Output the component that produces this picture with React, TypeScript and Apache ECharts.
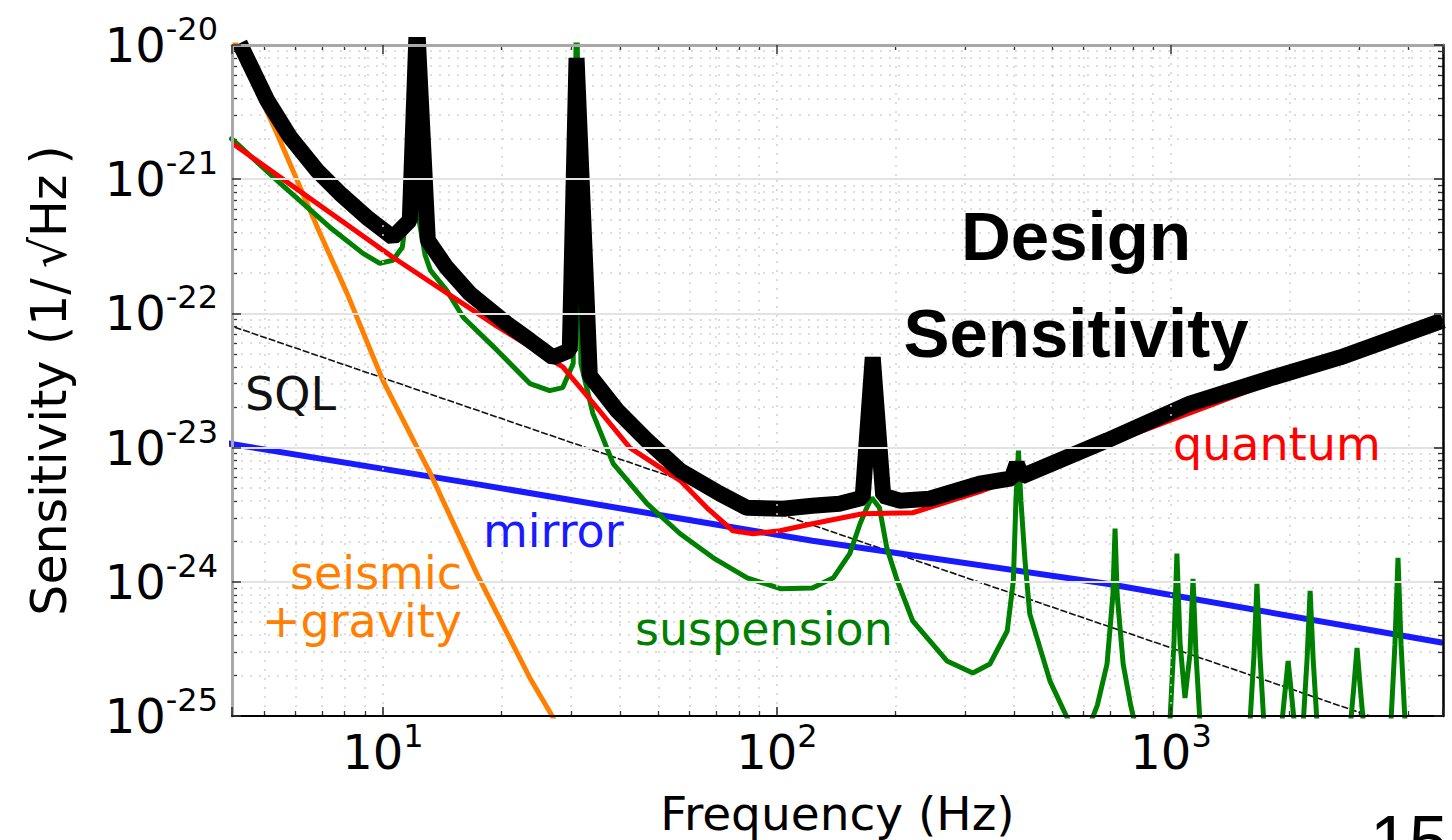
import React, { useEffect, useRef } from 'react';
import * as echarts from 'echarts';

const FONT = '"DejaVu Sans", "Bitstream Vera Sans", sans-serif';
const TITLE_FONT = '"Liberation Sans", Arial, Helvetica, sans-serif';

// ---- axis ranges ----
const X_MIN = 4.14; // Hz
const X_MAX = 4900; // Hz
const Y_MIN_EXP = -25; // 1e-25 1/sqrt(Hz)
const Y_MAX_EXP = -20; // 1e-20 1/sqrt(Hz)
// strain values are plotted in units of 1e-25 so the log axis stays in a safe numeric range
const Y_UNIT = Math.pow(10, -Y_MIN_EXP);

// ---- tick labels / minor ticks ----
const xMinorTicks = [5, 6, 7, 8, 9, 20, 30, 40, 50, 60, 70, 80, 90, 200, 300, 400, 500, 600, 700, 800, 900, 2000, 3000, 4000];
const yMinorMantissas = [2, 3, 4, 5, 6, 7, 8, 9];
const yMinorDecades = [-25, -24, -23, -22, -21];

// ---- Design sensitivity (thick black) ----
const designFreq = [4.33, 5.08, 5.81, 6.79, 7.77, 9.1, 10.6, 11.7, 12.2, 13.0, 14.5, 16.6, 20.6, 23.6, 27.0, 29.8, 31.0, 33.5, 39.3, 46.8, 56.8, 71.6, 83.9, 103.5, 123, 144, 165, 175, 186, 205, 244, 327, 394, 406, 418, 688, 1117, 1815, 2687, 4900];
const designStrain = [1.03e-20, 3.89e-21, 2.06e-21, 1.17e-21, 7.87e-22, 5.2e-22, 3.69e-22, 4.94e-22, 1.5e-20, 3.5e-22, 2.2e-22, 1.41e-22, 8.4e-23, 6.3e-23, 4.7e-23, 5.3e-23, 8.0e-21, 3.44e-23, 1.89e-23, 1.13e-23, 6.73e-24, 4.54e-24, 3.56e-24, 3.5e-24, 3.69e-24, 3.82e-24, 4.23e-24, 4.7e-23, 4.38e-24, 4.02e-24, 4.16e-24, 5.38e-24, 5.9e-24, 7.6e-24, 6.1e-24, 1.13e-23, 2.13e-23, 3.33e-23, 4.7e-23, 8.87e-23];

// ---- quantum (red) ----
const quantumFreq = [4.14, 10.6, 19.5, 28.6, 34.9, 42.3, 56.8, 66.4, 77.3, 86.9, 101.8, 123, 165, 221, 327, 688, 1815, 4900];
const quantumStrain = [1.86e-21, 2.62e-22, 8.0e-23, 4.0e-23, 1.99e-23, 1.0e-23, 5.68e-24, 3.56e-24, 2.4e-24, 2.28e-24, 2.4e-24, 2.71e-24, 3.21e-24, 3.27e-24, 4.7e-24, 1.06e-23, 3.1e-23, 8.3e-23];

// ---- suspension thermal (green): broadband part ----
const suspensionFreq = [4.09, 5.48, 7.33, 8.9, 9.82, 10.6, 11.2, 11.6, 11.85, 12.1, 12.8, 13.2, 14.5, 16.0, 19.5, 23.6, 26.5, 28.6, 30.4, 31.0, 31.8, 34.1, 38.4, 46.8, 56.8, 68.9, 84.0, 102, 123, 139, 153, 162.5, 169, 174, 182, 190, 202, 221, 270, 314, 347, 384, 398, 404, 410, 416, 426, 438, 493, 545, 570];
const suspensionStrain = [2.06e-21, 9.33e-22, 4.39e-22, 2.8e-22, 2.36e-22, 2.49e-22, 3.11e-22, 6.97e-22, 3e-20, 6.97e-22, 2.71e-22, 2.09e-22, 1.49e-22, 9.33e-23, 5.3e-23, 3.0e-23, 2.66e-23, 2.8e-23, 4.24e-23, 3e-20, 4.24e-23, 1.8e-23, 7.6e-24, 3.82e-24, 2.28e-24, 1.51e-24, 1.07e-24, 8.88e-25, 9.0e-25, 1.07e-24, 1.62e-24, 2.71e-24, 3.56e-24, 4.23e-24, 3.56e-24, 1.79e-24, 1.02e-24, 5.12e-25, 2.57e-25, 2.09e-25, 2.44e-25, 4.3e-25, 1.02e-24, 4.02e-24, 9.5e-24, 4.02e-24, 1.44e-24, 5.77e-25, 1.82e-25, 9.7e-26, 7e-26];
// ---- suspension thermal (green): violin-mode spikes ----
const violinFreq = [600, 650, 688, 712, 721, 730, 756, 790, 830, 988, 1017, 1035, 1054, 1085, 1117, 1137, 1157, 1192, 1576, 1623, 1652, 1682, 1731, 1891, 1947, 1982, 2018, 2077, 2151, 2214, 2254, 2295, 2362, 2829, 2912, 2965, 3018, 3107, 3594, 3700, 3767, 3835, 3948, 4900];
const violinStrain = [6.5e-26, 1.2e-25, 2.44e-25, 8e-25, 2.49e-24, 8e-25, 2.44e-25, 1.2e-25, 6.5e-26, 6.5e-26, 3.5e-25, 1.62e-24, 3.5e-25, 1.36e-25, 2.9e-25, 1.05e-24, 2.9e-25, 6.5e-26, 6.5e-26, 2.77e-25, 9.66e-25, 2.77e-25, 6.5e-26, 6.5e-26, 1.53e-25, 2.57e-25, 1.53e-25, 6.5e-26, 6.5e-26, 2.63e-25, 8.57e-25, 2.63e-25, 6.5e-26, 6.5e-26, 1.69e-25, 3.21e-25, 1.69e-25, 6.5e-26, 6.5e-26, 3.4e-25, 1.51e-24, 3.4e-25, 6.5e-26, 6.5e-26];

// ---- seismic + gravity gradient (orange) ----
const seismicFreq = [4.1, 5.38, 6.92, 8.11, 10, 13.2, 17.3, 23.6, 27.0, 28.1];
const seismicStrain = [1.25e-20, 2.2e-21, 3.96e-22, 1.41e-22, 3.16e-23, 6.4e-24, 1.15e-24, 1.92e-25, 9.8e-26, 7e-26];

// ---- mirror thermal (blue) ----
const mirrorFreq = [4.0, 17.6, 123, 688, 4900];
const mirrorStrain = [1.08e-23, 5.3e-24, 2.02e-24, 9.66e-25, 3.51e-25];

// ---- standard quantum limit (thin black) ----
const sqlFreq = [4.0, 1000, 4900];
const sqlStrain = [8.3e-23, 3.22e-25, 6.5e-26];

// ---- annotation texts (layout only) ----
const annotations = [
  { text: 'SQL', x: 245, y: 394, color: '#111111', align: 'left' },
  { text: 'seismic\n+gravity', x: 462, y: 597, color: '#ff8000', align: 'right' },
  { text: 'mirror', x: 483, y: 531, color: '#1a1aff', align: 'left' },
  { text: 'suspension', x: 635, y: 629, color: '#008000', align: 'left' },
  { text: 'quantum', x: 1173, y: 444, color: '#ff0000', align: 'left' },
];

const toPairs = (f: number[], h: number[]) => f.map((v, i) => [v, h[i] * Y_UNIT]);

const isDecade = (v: number) => {
  const l = Math.log10(v);
  return Math.abs(l - Math.round(l)) < 1e-6;
};

const richLabel = {
  b: { fontSize: 48, fontFamily: FONT, color: '#000', lineHeight: 64 },
  s: { fontSize: 32, fontFamily: FONT, color: '#000', lineHeight: 32, verticalAlign: 'top' },
};

function buildOption() {
  const yAxisMin = Math.pow(10, 0);
  const yAxisMax = Math.pow(10, Y_MAX_EXP - Y_MIN_EXP);

  const yMinor: number[] = [];
  yMinorDecades.forEach((d) => {
    yMinorMantissas.forEach((m) => {
      yMinor.push(m * Math.pow(10, d - Y_MIN_EXP));
    });
  });

  // short inward minor tick marks on all four sides (tick length ~5px)
  const tx = Math.pow(10, 5 / 394);
  const ty = Math.pow(10, 5 / 134);
  const minorTickSegments: any[] = [];
  xMinorTicks.forEach((v) => {
    minorTickSegments.push([{ coord: [v, yAxisMin] }, { coord: [v, yAxisMin * ty] }]);
    minorTickSegments.push([{ coord: [v, yAxisMax] }, { coord: [v, yAxisMax / ty] }]);
  });
  yMinor.forEach((v) => {
    minorTickSegments.push([{ coord: [X_MIN, v] }, { coord: [X_MIN * tx, v] }]);
    minorTickSegments.push([{ coord: [X_MAX / tx, v] }, { coord: [X_MAX, v] }]);
  });

  const lineBase = {
    type: 'line',
    xAxisIndex: 0,
    yAxisIndex: 0,
    showSymbol: false,
    symbol: 'none',
    smooth: false,
    clip: true,
    silent: true,
    z: 5,
  };

  return {
    animation: false,
    backgroundColor: '#ffffff',
    grid: {
      left: 232,
      top: 45,
      right: 9,
      bottom: 124,
      containLabel: false,
      outerBoundsMode: 'none',
    },
    xAxis: [
      {
        type: 'log',
        logBase: 10,
        min: X_MIN,
        max: X_MAX,
        position: 'bottom',
        z: 10,
        axisLine: { show: true, onZero: false, lineStyle: { color: '#000', width: 2 } },
        axisTick: { show: true, inside: true, length: 9, lineStyle: { color: '#222', width: 1.5 } },
        axisLabel: {
          show: true,
          margin: 4,
          formatter: (v: number) => (isDecade(v) ? `{b|10}{s|${Math.round(Math.log10(v))}}` : ''),
          rich: richLabel,
        },
        splitLine: { show: true, lineStyle: { color: '#cfcfcf', width: 1.5, type: [2, 7] } },
        minorTick: { show: false },
        minorSplitLine: { show: false },
        name: 'Frequency (Hz)',
        nameLocation: 'middle',
        nameGap: 74,
        nameMoveOverlap: false,
        nameTextStyle: { fontSize: 47, fontFamily: FONT, color: '#000' },
      },
      {
        type: 'log',
        logBase: 10,
        min: X_MIN,
        max: X_MAX,
        position: 'top',
        z: 10,
        axisLine: { show: true, onZero: false, lineStyle: { color: '#a8a8a8', width: 3 } },
        axisTick: { show: true, inside: true, length: 9, lineStyle: { color: '#333', width: 1.5 } },
        axisLabel: { show: false },
        splitLine: { show: false },
      },
    ],
    yAxis: [
      {
        type: 'log',
        logBase: 10,
        min: yAxisMin,
        max: yAxisMax,
        position: 'left',
        z: 10,
        axisLine: { show: true, onZero: false, lineStyle: { color: '#a8a8a8', width: 3 } },
        axisTick: { show: true, inside: true, length: 9, lineStyle: { color: '#333', width: 1.5 } },
        axisLabel: {
          show: true,
          margin: 14,
          formatter: (v: number) => (isDecade(v) ? `{b|10}{s|${Math.round(Math.log10(v)) + Y_MIN_EXP}}` : ''),
          rich: richLabel,
        },
        splitLine: { show: true, lineStyle: { color: '#e3e3e3', width: 2 } },
        minorTick: { show: false },
        minorSplitLine: { show: false },
        name: '{a|Sensitivity (1/}{m|√Hz}{a|)}',
        nameLocation: 'middle',
        nameGap: 158,
        nameMoveOverlap: false,
        nameTextStyle: {
          fontSize: 49,
          fontFamily: FONT,
          color: '#000',
          rich: {
            a: { fontSize: 49, fontFamily: FONT, color: '#000' },
            m: { fontSize: 49, fontFamily: FONT, color: '#000', padding: [0, 10, 0, 10] },
          },
        },
      },
      {
        type: 'log',
        logBase: 10,
        min: yAxisMin,
        max: yAxisMax,
        position: 'right',
        z: 10,
        axisLine: { show: true, onZero: false, lineStyle: { color: '#000', width: 2.5 } },
        axisTick: { show: true, inside: true, length: 9, lineStyle: { color: '#222', width: 1.5 } },
        axisLabel: { show: false },
        splitLine: { show: false },
      },
    ],
    series: [
      {
        type: 'line',
        xAxisIndex: 0,
        yAxisIndex: 0,
        data: [],
        silent: true,
        z: 1,
        markLine: {
          silent: true,
          z: 1,
          symbol: ['none', 'none'],
          label: { show: false },
          emphasis: { disabled: true },
          lineStyle: { color: '#d2d2d2', width: 1.5, type: [2, 7] },
          data: [...xMinorTicks.map((v) => ({ xAxis: v })), ...yMinor.map((v) => ({ yAxis: v }))],
        },
      },
      {
        type: 'line',
        xAxisIndex: 0,
        yAxisIndex: 0,
        data: [],
        silent: true,
        z: 1,
        markLine: {
          silent: true,
          z: 1,
          symbol: ['none', 'none'],
          label: { show: false },
          emphasis: { disabled: true },
          lineStyle: { color: '#333', width: 1.3, type: 'solid' },
          data: minorTickSegments,
        },
      },
      {
        ...lineBase,
        name: 'SQL',
        data: toPairs(sqlFreq, sqlStrain),
        lineStyle: { color: '#111', width: 1.6, type: [7, 2] },
      },
      {
        ...lineBase,
        name: 'mirror',
        data: toPairs(mirrorFreq, mirrorStrain),
        lineStyle: { color: '#1a1aff', width: 6 },
      },
      {
        ...lineBase,
        name: 'seismic+gravity',
        data: toPairs(seismicFreq, seismicStrain),
        lineStyle: { color: '#ff8000', width: 5 },
      },
      {
        ...lineBase,
        name: 'suspension',
        data: toPairs(suspensionFreq.concat(violinFreq), suspensionStrain.concat(violinStrain)),
        lineStyle: { color: '#008000', width: 5 },
      },
      {
        ...lineBase,
        name: 'quantum',
        data: toPairs(quantumFreq, quantumStrain),
        lineStyle: { color: '#ff0000', width: 5 },
      },
      {
        ...lineBase,
        name: 'Design Sensitivity',
        data: toPairs(designFreq, designStrain),
        lineStyle: { color: '#000', width: 16 },
      },
    ],
    graphic: [
      ...annotations.map((a) => ({
        type: 'text',
        x: a.x,
        y: a.y,
        z: 100,
        silent: true,
        style: {
          text: a.text,
          fill: a.color,
          fontSize: 46,
          lineHeight: 48,
          fontFamily: FONT,
          align: a.align,
          verticalAlign: 'middle',
          textAlign: a.align,
          textVerticalAlign: 'middle',
        },
      })),
      {
        type: 'text',
        x: 1076,
        y: 236,
        z: 100,
        silent: true,
        style: {
          text: 'Design',
          fill: '#000',
          fontSize: 69,
          fontWeight: 'bold',
          fontFamily: TITLE_FONT,
          align: 'center',
          verticalAlign: 'middle',
          textAlign: 'center',
          textVerticalAlign: 'middle',
        },
      },
      {
        type: 'text',
        x: 1076,
        y: 333,
        z: 100,
        silent: true,
        style: {
          text: 'Sensitivity',
          fill: '#000',
          fontSize: 69,
          fontWeight: 'bold',
          fontFamily: TITLE_FONT,
          align: 'center',
          verticalAlign: 'middle',
          textAlign: 'center',
          textVerticalAlign: 'middle',
        },
      },
      {
        type: 'text',
        x: 1370,
        y: 841,
        z: 100,
        silent: true,
        style: {
          text: '15',
          fill: '#000',
          fontSize: 70,
          fontFamily: TITLE_FONT,
          align: 'left',
          verticalAlign: 'middle',
          textAlign: 'left',
          textVerticalAlign: 'middle',
        },
      },
    ],
  };
}

export default function App() {
  const ref = useRef<HTMLDivElement>(null);
  useEffect(() => {
    if (!ref.current) return;
    const chart = echarts.init(ref.current, null, { renderer: 'svg' });
    chart.setOption(buildOption() as any);
    return () => {
      chart.dispose();
    };
  }, []);
  return (
    <div
      ref={ref}
      style={{ position: 'absolute', left: 0, top: 0, width: 1452, height: 840, background: '#ffffff', overflow: 'hidden' }}
    />
  );
}
